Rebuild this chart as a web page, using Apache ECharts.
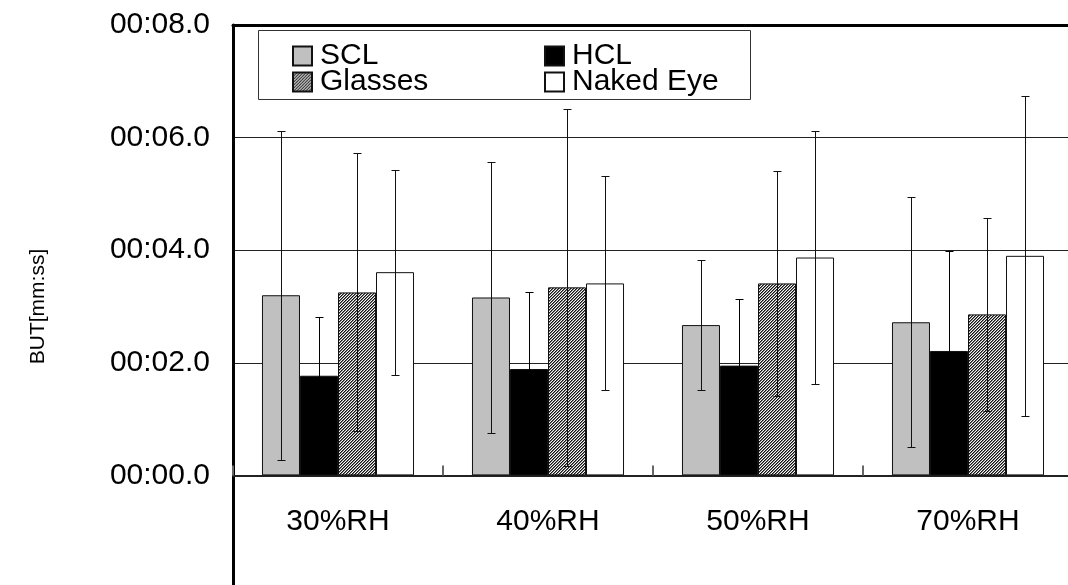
<!DOCTYPE html>
<html>
<head>
<meta charset="utf-8">
<script src="https://cdn.jsdelivr.net/npm/echarts@6/dist/echarts.min.js"></script>
<style>html,body{margin:0;padding:0;background:#fff}#c{width:1068px;height:585px}</style>
</head>
<body>
<div id="c"></div>
<script>
// ---- data (seconds) ----
const categories = ['30%RH', '40%RH', '50%RH', '70%RH'];
const seriesNames = ['SCL', 'HCL', 'Glasses', 'Naked Eye'];
const sclMean = [3.20, 3.16, 2.67, 2.72];
const hclMean = [1.77, 1.89, 1.95, 2.21];
const glassesMean = [3.25, 3.34, 3.41, 2.86];
const nakedMean = [3.61, 3.41, 3.87, 3.90];
const sclSD = [2.92, 2.41, 1.16, 2.22];
const hclSD = [1.05, 1.37, 1.18, 1.78];
const glassesSD = [2.47, 3.17, 2.00, 1.71];
const nakedSD = [1.82, 1.90, 2.24, 2.84];
const yTicks = [0, 2, 4, 6, 8];

const means = [sclMean, hclMean, glassesMean, nakedMean];
const sds = [sclSD, hclSD, glassesSD, nakedSD];

function fmt(v) {
  if (v < 0) return '';
  const s = Math.floor(v);
  return '00:' + (s < 10 ? '0' + s : '' + s) + '.0';
}

// hatch pattern for Glasses
const pc = document.createElement('canvas');
pc.width = 6; pc.height = 6;
const pctx = pc.getContext('2d');
const img = pctx.createImageData(6, 6);
for (let y = 0; y < 6; y++) for (let x = 0; x < 6; x++) {
  const m = (x + y) % 3;
  const v = m === 0 ? 20 : (m === 1 ? 120 : 245);
  const i = (y * 6 + x) * 4;
  img.data[i] = v; img.data[i + 1] = v; img.data[i + 2] = v; img.data[i + 3] = 255;
}
pctx.putImageData(img, 0, 0);
const hatch = { image: pc, repeat: 'repeat' };

const fills = ['#c0c0c0', '#000000', hatch, '#ffffff'];
const CAT_GAP = 0.276;

const barSeries = seriesNames.map((n, i) => ({
  name: n,
  type: 'bar',
  xAxisIndex: 0,
  data: means[i],
  barGap: 0,
  barCategoryGap: (CAT_GAP * 100) + '%',
  itemStyle: { color: fills[i], borderColor: '#111', borderWidth: 1 },
  emphasis: { disabled: true },
  z: 2
}));

const errSeries = seriesNames.map((n, si) => ({
  type: 'custom',
  xAxisIndex: 0,
  z: 5,
  silent: true,
  data: categories.map((c, k) => [k, means[si][k] - sds[si][k], means[si][k] + sds[si][k]]),
  encode: { x: 0, y: [1, 2] },
  renderItem: function (params, api) {
    const k = api.value(0);
    const catW = api.size([1, 0])[0];
    const bw = catW * (1 - CAT_GAP) / 4;
    const cx = Math.round(api.coord([k, 0])[0] - 2 * bw + (si + 0.5) * bw) + 0.5;
    const yl = Math.round(api.coord([k, api.value(1)])[1]) + 0.5;
    const yh = Math.round(api.coord([k, api.value(2)])[1]) + 0.5;
    const cap = 4;
    const st = { stroke: si === 1 ? '#000' : '#111', lineWidth: 1 };
    return {
      type: 'group',
      children: [
        { type: 'line', shape: { x1: cx, y1: yl, x2: cx, y2: yh }, style: st },
        { type: 'line', shape: { x1: cx - cap, y1: yh, x2: cx + cap, y2: yh }, style: st },
        { type: 'line', shape: { x1: cx - cap, y1: yl, x2: cx + cap, y2: yl }, style: st }
      ]
    };
  }
}));

const chart = echarts.init(document.getElementById('c'), null, { renderer: 'canvas' });
const font = 'Liberation Sans, Arial, sans-serif';
const legendText = { fontSize: 30, color: '#000', fontFamily: font, lineHeight: 24, padding: [0, 0, 0, 3] };
chart.setOption({
  animation: false,
  backgroundColor: '#fff',
  textStyle: { fontFamily: font },
  grid: { left: 233, top: 25, right: -5, bottom: -3, containLabel: false, outerBoundsMode: 'none' },
  legend: [
    {
      data: ['SCL', 'Glasses'], orient: 'vertical', left: 292, top: 41, icon: 'rect',
      itemWidth: 19, itemHeight: 19, itemGap: -4, padding: 0,
      selectedMode: false, textStyle: legendText
    },
    {
      data: ['HCL', 'Naked Eye'], orient: 'vertical', left: 544, top: 41, icon: 'rect',
      itemWidth: 19, itemHeight: 19, itemGap: -4, padding: 0,
      selectedMode: false, textStyle: legendText
    }
  ],
  graphic: [
    { type: 'rect', left: 258, top: 30, z: 0,
      shape: { width: 492, height: 69 },
      style: { fill: '#fff', stroke: '#333', lineWidth: 1 } }
  ],
  xAxis: [
    {
      type: 'category', data: categories, position: 'bottom', offset: -112.5,
      axisLine: { onZero: false, lineStyle: { color: '#222', width: 2 } },
      axisTick: { show: true, inside: true, length: 10, lineStyle: { color: '#666', width: 2 } },
      axisLabel: { fontSize: 30, color: '#000', margin: 31, fontFamily: font },
      splitLine: { show: false }
    },
    {
      type: 'category', data: categories, position: 'top',
      axisLine: { onZero: false, lineStyle: { color: '#000', width: 3 } },
      axisTick: { show: false }, axisLabel: { show: false }
    }
  ],
  yAxis: {
    type: 'value', min: -2, max: 8, interval: 2,
    name: 'BUT[mm:ss]', nameLocation: 'middle', nameGap: 184, nameRotate: 90,
    nameTextStyle: { fontSize: 21, color: '#000', fontFamily: font },
    axisLine: { show: true, lineStyle: { color: '#000', width: 3 } },
    axisTick: { show: false },
    axisLabel: { fontSize: 30, color: '#000', margin: 23, formatter: fmt, fontFamily: font },
    splitLine: { show: true, lineStyle: { color: '#222', width: 1 } }
  },
  series: barSeries.concat(errSeries)
});
</script>
</body>
</html>
